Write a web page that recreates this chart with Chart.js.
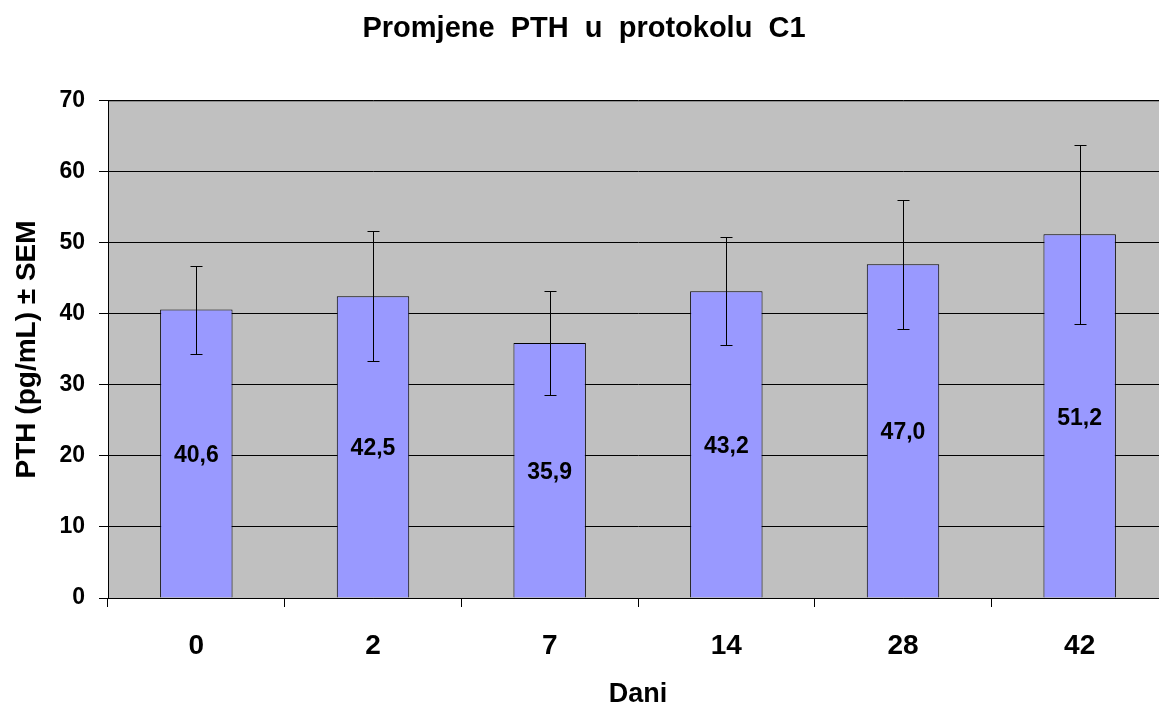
<!DOCTYPE html>
<html><head><meta charset="utf-8">
<script src="https://cdn.jsdelivr.net/npm/chart.js@4.4.0/dist/chart.umd.min.js"></script>
<style>html,body{margin:0;padding:0;overflow:hidden;background:#fff;width:1159px;height:708px}#w{width:1169px;height:708px}</style>
</head><body><div id="w"><canvas id="c" width="1169" height="708"></canvas></div>
<script>
const categories = ['0', '2', '7', '14', '28', '42'];
const meanPTH = [40.6, 42.5, 35.9, 43.2, 47.0, 51.2];
const semPTH = [6.2, 9.1, 7.3, 7.6, 9.1, 12.6];
const yTicks = [0, 10, 20, 30, 40, 50, 60, 70];

const FONT = '"Liberation Sans", Arial, sans-serif';

const bgPlugin = {
  id: 'bg',
  beforeDraw(chart) {
    const {ctx, chartArea: a} = chart;
    ctx.save();
    ctx.fillStyle = '#C0C0C0';
    ctx.fillRect(a.left, a.top, a.right - a.left, a.bottom - a.top);
    ctx.strokeStyle = '#808080';
    ctx.lineWidth = 1;
    ctx.beginPath();
    ctx.moveTo(a.left, a.top + 0.5); ctx.lineTo(a.right, a.top + 0.5);
    ctx.moveTo(a.right - 0.5, a.top); ctx.lineTo(a.right - 0.5, a.bottom);
    ctx.stroke();
    ctx.restore();
  }
};

const errPlugin = {
  id: 'err',
  afterDatasetsDraw(chart) {
    const {ctx} = chart;
    const meta = chart.getDatasetMeta(0);
    const y = chart.scales.y;
    ctx.save();
    ctx.strokeStyle = '#000';
    ctx.lineWidth = 1;
    meta.data.forEach((bar, i) => {
      const x = Math.round(bar.x) + 0.5;
      const top = Math.round(y.getPixelForValue(meanPTH[i] + semPTH[i])) + 0.5;
      const bot = Math.round(y.getPixelForValue(meanPTH[i] - semPTH[i])) + 0.5;
      ctx.beginPath();
      ctx.moveTo(x, top); ctx.lineTo(x, bot);
      ctx.moveTo(x - 6, top); ctx.lineTo(x + 6, top);
      ctx.moveTo(x - 6, bot); ctx.lineTo(x + 6, bot);
      ctx.stroke();
    });
    ctx.fillStyle = '#000';
    ctx.font = 'bold 23px ' + FONT;
    ctx.textAlign = 'center';
    ctx.textBaseline = 'middle';
    meta.data.forEach((bar, i) => {
      const yy = y.getPixelForValue(meanPTH[i] / 2) + 2;
      ctx.fillText(meanPTH[i].toFixed(1).replace('.', ','), bar.x, yy);
    });
    ctx.restore();
  }
};

new Chart(document.getElementById('c'), {
  type: 'bar',
  data: {
    labels: categories,
    datasets: [{
      data: meanPTH,
      backgroundColor: '#9999FF',
      borderColor: '#000',
      borderWidth: 1,
      barPercentage: 0.41,
      categoryPercentage: 1.0
    }]
  },
  options: {
    responsive: false,
    animation: false,
    devicePixelRatio: 1,
    layout: {padding: {left: 0, right: 1, top: 0, bottom: 0}},
    plugins: {
      legend: {display: false},
      tooltip: {enabled: false},
      title: {
        display: true,
        text: 'Promjene  PTH  u  protokolu  C1',
        color: '#000',
        font: {family: FONT, size: 29, weight: 'bold', lineHeight: 1.2},
        padding: {top: 12, bottom: 54}
      }
    },
    scales: {
      x: {
        grid: {display: true, drawOnChartArea: false, drawTicks: true, tickLength: 9, color: '#000', offset: true},
        border: {display: true, color: '#000', width: 1},
        ticks: {color: '#000', font: {family: FONT, size: 28, weight: 'bold'}, padding: 22, maxRotation: 0},
        title: {display: true, text: 'Dani', color: '#000', font: {family: FONT, size: 27, weight: 'bold', lineHeight: 1}, padding: 0},
        afterFit(s) { s.height = 110; }
      },
      y: {
        min: 0, max: 70,
        afterBuildTicks(s) { s.ticks = yTicks.map(v => ({value: v})); },
        grid: {color: '#000', drawTicks: true, tickLength: 9},
        border: {display: true, color: '#000', width: 1},
        ticks: {color: '#000', font: {family: FONT, size: 23, weight: 'bold'}, padding: 14},
        title: {display: true, text: 'PTH (pg/mL) ± SEM', color: '#000', font: {family: FONT, size: 28, weight: 'bold', lineHeight: 1.2}, padding: {top: 10, bottom: 0}},
        afterFit(s) { s.width = 108; }
      }
    }
  },
  plugins: [bgPlugin, errPlugin]
});
</script></body></html>
